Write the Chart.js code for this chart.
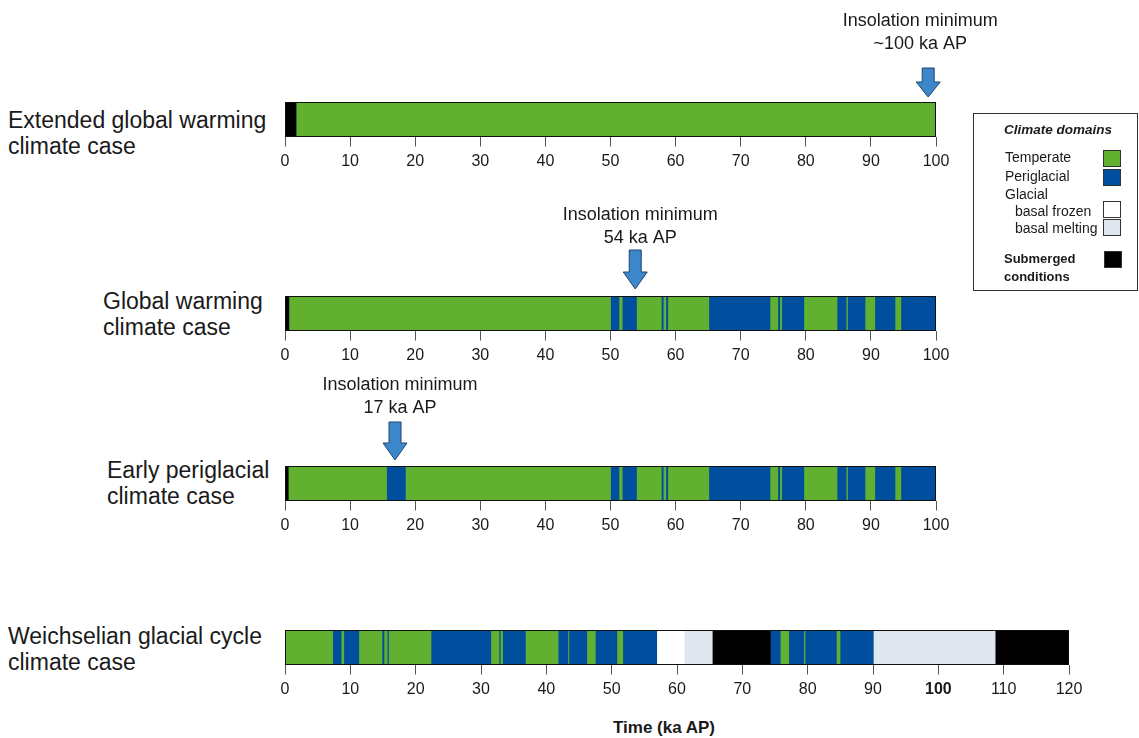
<!DOCTYPE html>
<html>
<head>
<meta charset="utf-8">
<script src="https://cdn.jsdelivr.net/npm/chart.js@4.4.1/dist/chart.umd.min.js"></script>
<style>
  body { margin: 0; background: #fff; width: 1139px; height: 738px; overflow: hidden; position: relative;
         font-family: "Liberation Sans", Arial, sans-serif; color: #1a1a1a; }
  .abs { position: absolute; white-space: nowrap; }
  .case { font-size: 23px; line-height: 26px; }
  canvas { position: absolute; }
  .lg { font-size: 14px; line-height: 16px; }
  .sw { position: absolute; width: 16px; height: 15px; border: 1px solid #333; }
</style>
</head>
<body>

<div class="abs case" style="left:8px;top:107px">Extended global warming<br>climate case</div>
<div class="abs case" style="left:103px;top:288px">Global warming<br>climate case</div>
<div class="abs case" style="left:107px;top:457px">Early periglacial<br>climate case</div>
<div class="abs case" style="left:8px;top:623px">Weichselian glacial cycle<br>climate case</div>

<canvas id="extCase"   width="751" height="173" style="left:265px;top:2px"></canvas>
<canvas id="gwCase"    width="691" height="173" style="left:265px;top:196px"></canvas>
<canvas id="earlyCase" width="691" height="173" style="left:265px;top:366px"></canvas>
<canvas id="weichCase" width="824" height="173" style="left:265px;top:530px"></canvas>

<div class="abs" style="left:564px;top:718px;width:200px;text-align:center;font-weight:bold;font-size:17px;line-height:20px">Time (ka AP)</div>

<!-- legend -->
<div class="abs" style="left:973px;top:113px;width:163px;height:176px;border:1px solid #333"></div>
<div class="abs" style="left:1004px;top:122px;font-size:13.5px;line-height:16px;font-weight:bold;font-style:italic">Climate domains</div>
<div class="abs lg" style="left:1005px;top:149px">Temperate</div>
<div class="abs lg" style="left:1005px;top:168px">Periglacial</div>
<div class="abs lg" style="left:1005px;top:186px">Glacial</div>
<div class="abs lg" style="left:1015px;top:203px">basal frozen</div>
<div class="abs lg" style="left:1015px;top:220px">basal melting</div>
<div class="abs" style="left:1004px;top:250px;font-size:13px;line-height:18px;font-weight:bold">Submerged<br>conditions</div>
<div class="sw" style="left:1103px;top:150px;background:#62b030"></div>
<div class="sw" style="left:1103px;top:169px;background:#004f9f"></div>
<div class="sw" style="left:1103px;top:201px;background:#ffffff"></div>
<div class="sw" style="left:1103px;top:219px;background:#dfe6ee"></div>
<div class="sw" style="left:1104px;top:251px;background:#000000"></div>

<script>
// climate domain codes: T temperate, P periglacial, F glacial basal frozen,
// M glacial basal melting, S submerged
const DOMAIN_COLORS = { T: "#62b030", P: "#004f9f", F: "#ffffff", M: "#dfe6ee", S: "#000000" };

// segment boundaries (ka AP) and the domain of each segment
const extEdges   = [0, 1.7, 100];
const extDomains = ["S", "T"];

const gwEdges   = [0, 0.6, 50.0, 51.3, 51.8, 54.0, 57.8, 58.1, 58.5, 58.8, 65.1, 74.5, 75.7, 76.0, 76.3,
                   79.7, 84.8, 86.2, 86.4, 89.1, 90.6, 93.7, 94.6, 100];
const gwDomains = ["S", "T", "P", "T", "P", "T", "P", "T", "P", "T", "P", "T", "P", "T", "P",
                   "T", "P", "T", "P", "T", "P", "T", "P"];

const earlyEdges   = [0, 0.5, 15.6, 18.5, 50.0, 51.3, 51.8, 54.0, 57.8, 58.1, 58.5, 58.8, 65.1, 74.5, 75.7,
                      76.0, 76.3, 79.7, 84.8, 86.2, 86.4, 89.1, 90.6, 93.7, 94.6, 100];
const earlyDomains = ["S", "T", "P", "T", "P", "T", "P", "T", "P", "T", "P", "T", "P", "T", "P",
                      "T", "P", "T", "P", "T", "P", "T", "P", "T", "P"];

const weichEdges   = [0, 7.3, 8.6, 9.0, 11.3, 14.85, 15.15, 15.65, 15.85, 22.35, 31.5, 32.75, 32.95, 33.3,
                      36.8, 41.8, 43.3, 43.45, 46.2, 47.5, 50.8, 51.7, 56.9, 61.1, 65.4, 74.3, 75.8, 77.1,
                      79.4, 79.6, 84.4, 84.95, 90.05, 108.7, 120];
const weichDomains = ["T", "P", "T", "P", "T", "P", "T", "P", "T", "P", "T", "P", "T", "P",
                      "T", "P", "T", "P", "T", "P", "T", "P", "F", "M", "S", "P", "T",
                      "P", "T", "P", "T", "P", "M", "S"];

// tick labels
const ticks100 = [0, 10, 20, 30, 40, 50, 60, 70, 80, 90, 100];
const ticks120 = [0, 10, 20, 30, 40, 50, 60, 70, 80, 90, 100, 110, 120];

// insolation minimum markers
const minExt   = 98.8;
const minGw    = 53.8;
const minEarly = 16.9;
const labelExt   = ["Insolation minimum", "~100 ka AP"];
const labelGw    = ["Insolation minimum", "54 ka AP"];
const labelEarly = ["Insolation minimum", "17 ka AP"];

const FONT = '"Liberation Sans", Arial, sans-serif';

// black outline around the whole bar
const barOutline = {
    id: "barOutline",
    afterDatasetsDraw(chart) {
        const { ctx, chartArea: a } = chart;
        ctx.save();
        ctx.strokeStyle = "#111";
        ctx.lineWidth = 1;
        ctx.strokeRect(Math.round(a.left) + 0.5, Math.round(a.top) + 0.5,
                       Math.round(a.width) - 1, Math.round(a.height) - 1);
        ctx.restore();
    },
};

// down arrow + caption at the insolation minimum
const insolationArrow = {
    id: "insolationArrow",
    afterDraw(chart, args, o) {
        if (o.at == null) return;
        const { ctx } = chart;
        const top = chart.chartArea.top;
        const x = chart.scales.x.getPixelForValue(o.at);
        ctx.save();
        ctx.beginPath();
        ctx.moveTo(x - 6, top - o.shaftTop);
        ctx.lineTo(x + 6, top - o.shaftTop);
        ctx.lineTo(x + 6, top - o.headTop);
        ctx.lineTo(x + 12, top - o.headTop);
        ctx.lineTo(x, top - o.tip);
        ctx.lineTo(x - 12, top - o.headTop);
        ctx.lineTo(x - 6, top - o.headTop);
        ctx.closePath();
        ctx.fillStyle = "#3b87c9";
        ctx.fill();
        ctx.strokeStyle = "#1f4670";
        ctx.lineWidth = 1;
        ctx.stroke();

        ctx.fillStyle = "#1a1a1a";
        ctx.font = "18px " + FONT;
        ctx.textAlign = "center";
        ctx.textBaseline = "middle";
        o.lines.forEach((t, i) => ctx.fillText(t, x + o.textShift, top - 81 + i * 23));
        ctx.restore();
    },
};

function makeCase(id, edges, domains, max, tickValues, marker, boldTick, padRight) {
    const datasets = domains.map((d, i) => ({
        data: [[edges[i], edges[i + 1]]],
        backgroundColor: DOMAIN_COLORS[d],
        borderWidth: 0,
        grouped: false,
        barPercentage: 1,
        categoryPercentage: 1,
    }));

    return new Chart(document.getElementById(id), {
        type: "bar",
        data: { labels: ["case"], datasets },
        plugins: [barOutline, insolationArrow],
        options: {
            indexAxis: "y",
            responsive: false,
            animation: false,
            events: [],
            layout: { padding: { top: 100, left: 20, right: padRight || 20, bottom: 4 } },
            plugins: {
                legend:  { display: false },
                tooltip: { enabled: false },
                insolationArrow: marker || {},
            },
            scales: {
                y: { display: false },
                x: {
                    type: "linear",
                    min: 0,
                    max: max,
                    afterBuildTicks: (s) => { s.ticks = tickValues.map((v) => ({ value: v })); },
                    grid:   { display: true, drawOnChartArea: false, drawTicks: true, tickLength: 10, color: "#555" },
                    border: { display: false },
                    ticks: {
                        padding: 5,
                        color: "#1a1a1a",
                        font: (c) => ({
                            family: FONT,
                            size: 16,
                            lineHeight: 1.25,
                            weight: boldTick != null && c.tick && c.tick.value === boldTick ? "bold" : "normal",
                        }),
                    },
                },
            },
        },
    });
}

makeCase("extCase", extEdges, extDomains, 100, ticks100,
         { at: minExt, lines: labelExt, shaftTop: 34, headTop: 20, tip: 5, textShift: -8 }, null, 80);
makeCase("gwCase", gwEdges, gwDomains, 100, ticks100,
         { at: minGw, lines: labelGw, shaftTop: 46, headTop: 24, tip: 7, textShift: 5 });
makeCase("earlyCase", earlyEdges, earlyDomains, 100, ticks100,
         { at: minEarly, lines: labelEarly, shaftTop: 44, headTop: 23, tip: 6, textShift: 5 });
makeCase("weichCase", weichEdges, weichDomains, 120, ticks120, null, 100);
</script>
</body>
</html>
